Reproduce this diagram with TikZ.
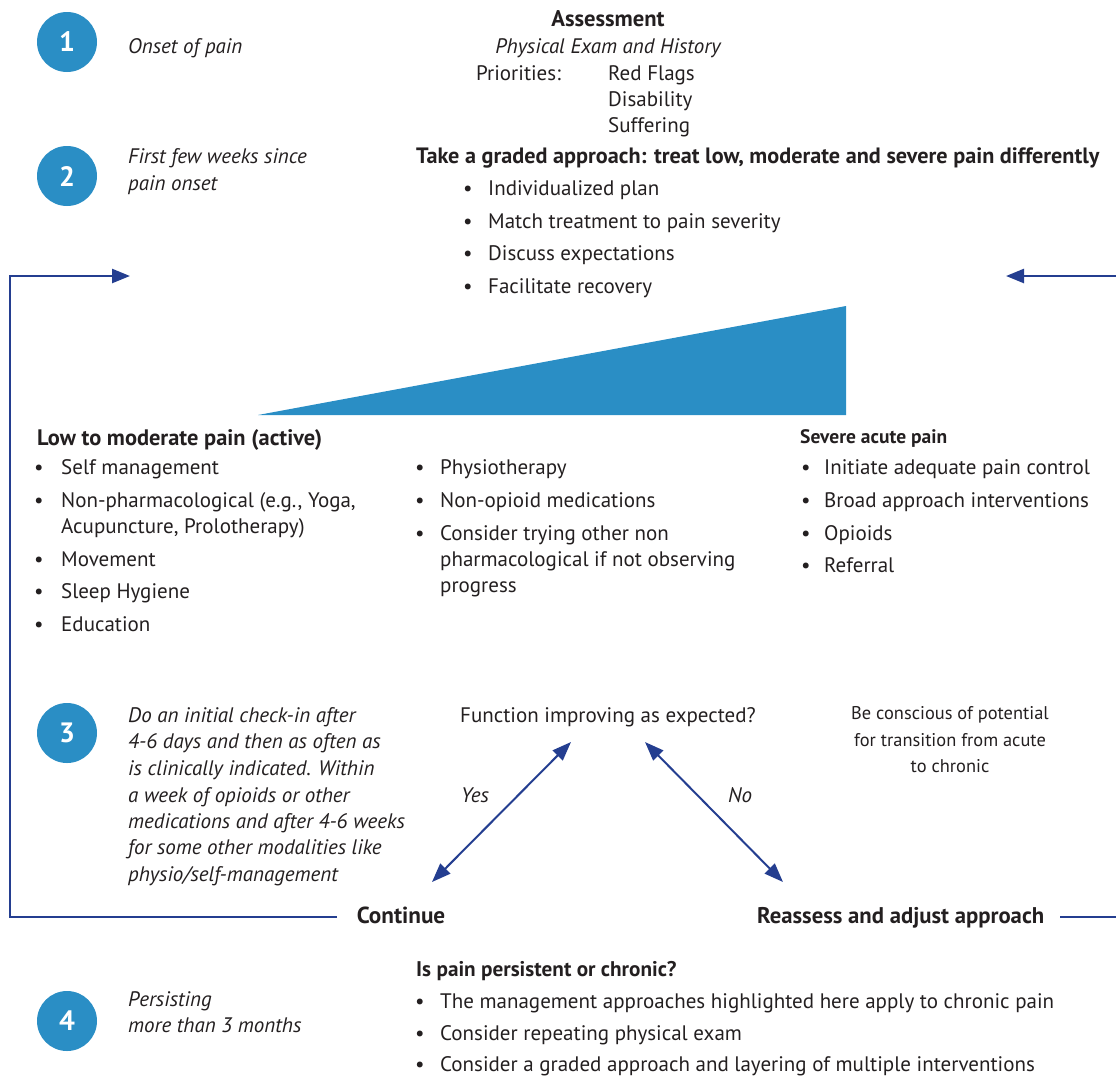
\documentclass[tikz,border=0pt]{standalone}
\usepackage{fontspec}
\setmainfont{PT Sans}
\usetikzlibrary{arrows.meta}
\definecolor{stepblue}{HTML}{2A8EC5}
\definecolor{arrowblue}{HTML}{243E90}
\definecolor{ink}{HTML}{231F20}
\newcommand\bodysize{\fontsize{21}{25}\selectfont}
\newcommand\smallsize{\fontsize{18.4}{22}\selectfont}
\newcommand\bsz[1]{\fontsize{#1}{25}\selectfont\bfseries}
\begin{document}
\begin{tikzpicture}[x=1pt,y=-1pt,
  txt/.style={anchor=base west, inner sep=0pt, text=ink, font=\bodysize},
  ctxt/.style={anchor=base, inner sep=0pt, text=ink, font=\bodysize},
  itxt/.style={txt, font=\bodysize\itshape},
  btxt/.style={txt, font=\bsz{22.2}},
  stepnum/.style={circle, fill=stepblue, minimum size=60pt, inner sep=0pt, text=white, font=\fontsize{28}{28}\selectfont\bfseries},
  flow/.style={draw=arrowblue, line width=2.5pt},
  tipend/.style={flow, -{Triangle[length=18pt,width=14pt]}},
  dbl/.style={flow, line width=2pt, {Triangle[length=19pt,width=14pt]}-{Triangle[length=19pt,width=14pt]}},
  bul/.style={txt}
]
\useasboundingbox (0,0) rectangle (1116,1077);

% step circles
\node[stepnum] (s1) at (67,42) {1};
\node[stepnum] (s2) at (67,176) {2};
\node[stepnum] (s3) at (67,733) {3};
\node[stepnum] (s4) at (67,1021) {4};

% step texts
\node[itxt] (t1) at (128,53) {Onset of pain};
\node[itxt] (t2a) at (128,163) {First few weeks since};
\node[itxt] (t2b) at (128,190) {pain onset};
\node[itxt] (t3a) at (128,722) {Do an initial check-in after};
\node[itxt] (t3b) at (128,748) {4-6 days and then as often as};
\node[itxt] (t3c) at (128,775) {is clinically indicated. Within};
\node[itxt] (t3d) at (128,802) {a week of opioids or other};
\node[itxt] (t3e) at (128,828) {medications and after 4-6 weeks};
\node[itxt] (t3f) at (128,854) {for some other modalities like};
\node[itxt] (t3g) at (128,881) {physio/self-management};
\node[itxt] (t4a) at (128,1006) {Persisting};
\node[itxt] (t4b) at (128,1032) {more than 3 months};

% assessment
\node[ctxt, font=\bsz{22.6}] (assess) at (608,26) {Assessment};
\node[ctxt, font=\bodysize\itshape] (exam) at (608,53) {Physical Exam and History};
\node[txt] (prio) at (476,80) {Priorities:};
\node[txt] (red) at (608,80) {Red Flags};
\node[txt] (dis) at (608,106) {Disability};
\node[txt] (suf) at (608,132) {Suffering};

% graded approach
\node[btxt] (graded) at (416,163) {Take a graded approach: treat low, moderate and severe pain differently};
\node[bul] (gb1) at (463,195) {•}; \node[txt] (g1) at (488,195) {Individualized plan};
\node[bul] (gb2) at (463,228) {•}; \node[txt] (g2) at (488,228) {Match treatment to pain severity};
\node[bul] (gb3) at (463,260) {•}; \node[txt] (g3) at (488,260) {Discuss expectations};
\node[bul] (gb4) at (463,293) {•}; \node[txt] (g4) at (488,293) {Facilitate recovery};

% wedge
\fill[stepblue] (258,415) -- (846,306) -- (846,415) -- cycle;

% low to moderate
\node[btxt, font=\bsz{22.4}] (low) at (37,445) {Low to moderate pain (active)};
\node[bul] (lb1) at (34,474) {•}; \node[txt] (l1) at (61,474) {Self management};
\node[bul] (lb2) at (34,507) {•}; \node[txt] (l2) at (61,507) {Non-pharmacological (e.g., Yoga,};
\node[txt] (l2b) at (61,533) {Acupuncture, Prolotherapy)};
\node[bul] (lb3) at (34,566) {•}; \node[txt] (l3) at (61,566) {Movement};
\node[bul] (lb4) at (34,598) {•}; \node[txt] (l4) at (61,598) {Sleep Hygiene};
\node[bul] (lb5) at (34,631) {•}; \node[txt] (l5) at (61,631) {Education};

% middle
\node[bul] (mb1) at (415,474) {•}; \node[txt] (m1) at (440,474) {Physiotherapy};
\node[bul] (mb2) at (415,507) {•}; \node[txt] (m2) at (440,507) {Non-opioid medications};
\node[bul] (mb3) at (415,540) {•}; \node[txt] (m3) at (440,540) {Consider trying other non};
\node[txt] (m3b) at (440,566) {pharmacological if not observing};
\node[txt] (m3c) at (440,592) {progress};

% severe
\node[txt, font=\bsz{19.5}] (sev) at (800,443) {Severe acute pain};
\node[bul] (rb1) at (801,474) {•}; \node[txt] (r1) at (824,474) {Initiate adequate pain control};
\node[bul] (rb2) at (801,507) {•}; \node[txt] (r2) at (824,507) {Broad approach interventions};
\node[bul] (rb3) at (801,540) {•}; \node[txt] (r3) at (824,540) {Opioids};
\node[bul] (rb4) at (801,572) {•}; \node[txt] (r4) at (824,572) {Referral};

% step 3 decision
\node[ctxt] (func) at (608,722) {Function improving as expected?};
\node[ctxt, font=\smallsize] (be1) at (950,719) {Be conscious of potential};
\node[ctxt, font=\smallsize] (be2) at (950,746) {for transition from acute};
\node[ctxt, font=\smallsize] (be3) at (950,772) {to chronic};
\node[itxt] (yes) at (461,802) {Yes};
\node[itxt] (no) at (728,802) {No};
\node[ctxt, font=\bsz{23.2}] (cont) at (401,923) {Continue};
\node[btxt, font=\bsz{22.7}] (reas) at (757,923) {Reassess and adjust approach};

\coordinate (fy) at (571,742);
\coordinate (cy) at (432,882);
\coordinate (fn) at (645,742);
\coordinate (rn) at (783,882);
\draw[dbl] (cy) -- (fy);
\draw[dbl] (fn) -- (rn);

% feedback loops
\coordinate (contL) at (337,917);
\coordinate (lb) at (10,917);
\coordinate (lt) at (10,276);
\coordinate (ltip) at (130,276);
\draw[tipend, line join=miter] (contL) -- (lb) -- (lt) -- (ltip);
\coordinate (reasR) at (1060,917);
\coordinate (redge) at (1117,917);
\draw[flow] (reasR) -- (redge);
\coordinate (rin) at (1117,276);
\coordinate (rtip) at (1006,276);
\draw[tipend] (rin) -- (rtip);

% step 4
\node[btxt, font=\bsz{21.2}] (pers) at (416,976) {Is pain persistent or chronic?};
\node[bul] (pb1) at (415,1008) {•}; \node[txt] (p1) at (440,1008) {The management approaches highlighted here apply to chronic pain};
\node[bul] (pb2) at (415,1040) {•}; \node[txt] (p2) at (440,1040) {Consider repeating physical exam};
\node[bul] (pb3) at (415,1071) {•}; \node[txt] (p3) at (440,1071) {Consider a graded approach and layering of multiple interventions};
\end{tikzpicture}
\end{document}
